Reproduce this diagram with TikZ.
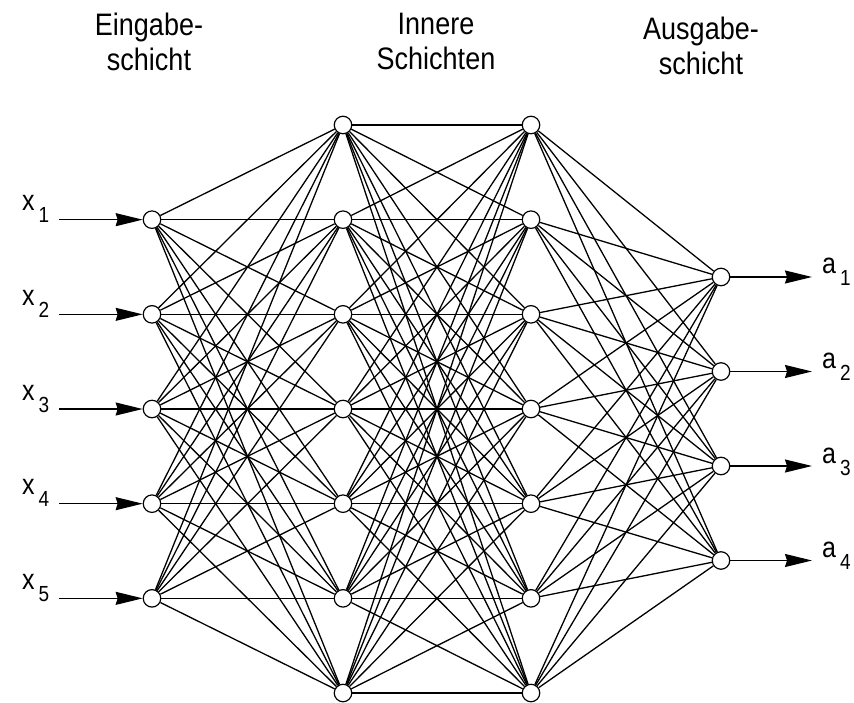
\documentclass[tikz,border=0pt]{standalone}
\usepackage{graphicx}
\usepackage{fontspec}
\setmainfont{Liberation Sans}
\usetikzlibrary{arrows.meta}
% slightly tall lettering
\newcommand\tallt[1]{\scalebox{1}[1.15]{#1}}
\newcommand\sublbl[2]{\tallt{#1}\hspace{4pt}\raisebox{-12pt}{\fontsize{19}{19}\selectfont\tallt{#2}}}

\begin{document}
\begin{tikzpicture}[x=1pt,y=-1pt,
  neuron/.style={circle, draw, fill=white, minimum size=17.5pt, inner sep=0pt, line width=1.2pt},
  link/.style={line width=1.3pt},
  signal/.style={line width=1.3pt, -{Stealth[length=27pt,width=13pt,inset=2pt]}},
  heading/.style={font=\fontsize{27}{35}\selectfont, align=center, anchor=north, inner sep=0pt},
  varlabel/.style={font=\fontsize{25}{25}\selectfont, anchor=base west, inner sep=0pt}
]
\useasboundingbox (0,0) rectangle (854,703);

% headings
\node[heading] (hin)  at (149,13) {\tallt{Eingabe-}\\\tallt{schicht}};
\node[heading] (hmid) at (436,13) {\tallt{Innere}\\\tallt{Schichten}};
\node[heading] (hout) at (701,17) {\tallt{Ausgabe-}\\\tallt{schicht}};

% hidden layers
\foreach \k in {1,...,7} {
  \pgfmathsetmacro\yy{125+(\k-1)*94.67}
  \node[neuron] (h\k) at (343,\yy) {};
  \node[neuron] (g\k) at (531,\yy) {};
}
% input layer
\foreach \k in {1,...,5} {
  \pgfmathsetmacro\yy{219.67+(\k-1)*94.67}
  \node[neuron] (i\k) at (152,\yy) {};
  \coordinate (xs\k) at (59,\yy);
  \pgfmathsetmacro\ly{\yy-9}
  \node[varlabel] (lx\k) at (22,\ly) {\sublbl{x}{\k}};
}
% output layer
\foreach \k in {1,...,4} {
  \pgfmathsetmacro\yy{277+(\k-1)*94.5}
  \node[neuron] (o\k) at (721,\yy) {};
  \coordinate (ae\k) at (812,\yy);
  \pgfmathsetmacro\ly{\yy-3}
  \node[varlabel] (la\k) at (822,\ly) {\sublbl{a}{\k}};
}

% connections
\foreach \a in {1,...,5} \foreach \b in {1,...,7} \draw[link] (i\a) -- (h\b);
\foreach \a in {1,...,7} \foreach \b in {1,...,7} \draw[link] (h\a) -- (g\b);
\foreach \a in {1,...,7} \foreach \b in {1,...,4} \draw[link] (g\a) -- (o\b);

% input and output signals
\foreach \k in {1,...,5} \draw[signal] (xs\k) -- (i\k);
\foreach \k in {1,...,4} \draw[signal] (o\k) -- (ae\k);
\end{tikzpicture}
\end{document}
